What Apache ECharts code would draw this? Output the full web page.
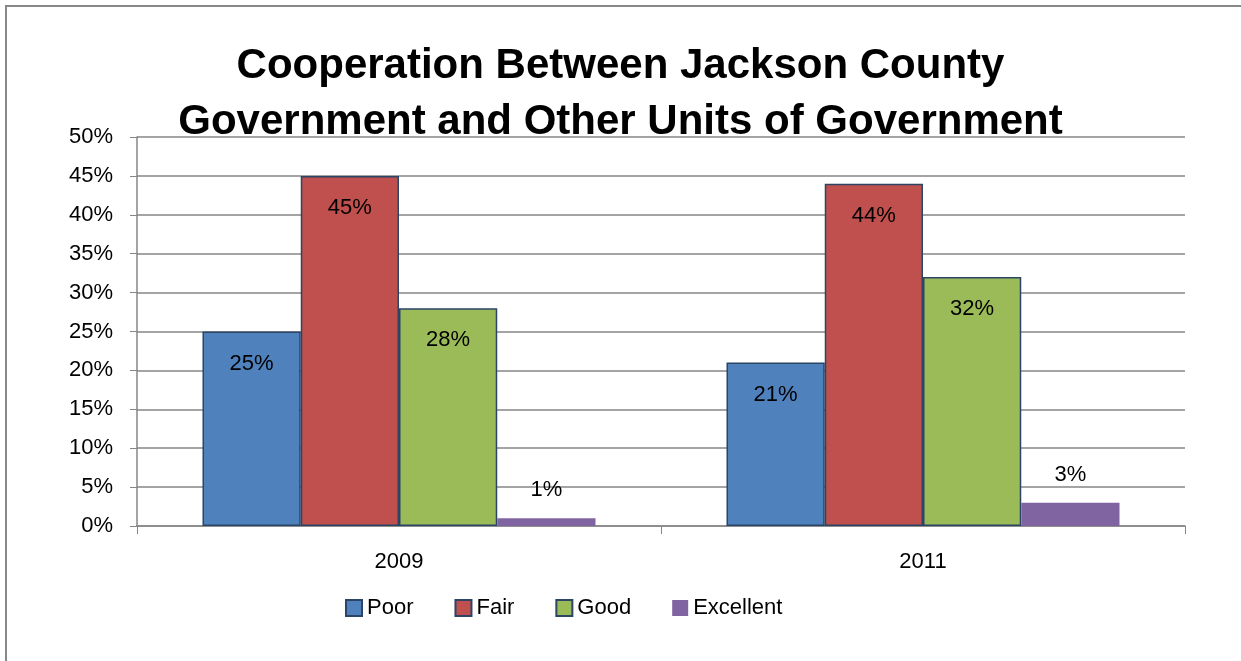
<!DOCTYPE html>
<html>
<head>
<meta charset="utf-8">
<script src="https://cdn.jsdelivr.net/npm/echarts@6/dist/echarts.min.js"></script>
<style>
html,body{margin:0;padding:0;background:#fff;}
#chart{width:1241px;height:661px;}
</style>
</head>
<body>
<div id="chart"></div>
<script>
const categories = ['2009', '2011'];
const poor = [25, 21];
const fair = [45, 44];
const good = [28, 32];
const excellent = [1, 3];
const seriesNames = ['Poor', 'Fair', 'Good', 'Excellent'];
const titleLines = ['Cooperation Between Jackson County', 'Government and Other Units of Government'];

const colors = ['#4F81BD', '#C0504D', '#9BBB59', '#8064A2'];
const FONT = 'Liberation Sans';
const chart = echarts.init(document.getElementById('chart'));

function barSeries(name, data, idx, inside) {
  return {
    name: name,
    type: 'bar',
    data: data,
    barGap: '0%',
    barCategoryGap: '25%',
    itemStyle: { color: colors[idx], borderColor: idx === 3 ? colors[idx] : '#2b4566', borderWidth: idx === 3 ? 0 : 1.5 },
    label: {
      show: true,
      position: inside ? 'insideTop' : 'top',
      distance: inside ? 21 : 17,
      formatter: p => p.value + '%',
      color: '#000',
      fontFamily: FONT,
      fontSize: 22
    },
    emphasis: { disabled: true }
  };
}

chart.setOption({
  animation: false,
  backgroundColor: '#fff',
  title: {
    text: titleLines.join('\n'),
    left: 'center',
    top: 33,
    textStyle: { fontFamily: FONT, fontWeight: 'bold', fontSize: 42, color: '#000', lineHeight: 56 }
  },
  graphic: [{
    type: 'rect',
    shape: { x: 6, y: 6, width: 1300, height: 700 },
    style: { fill: 'none', stroke: '#888', lineWidth: 2 },
    silent: true
  }],
  legend: {
    data: seriesNames,
    bottom: 37,
    left: 340,
    itemWidth: 16,
    itemHeight: 16,
    itemGap: 41,
    textStyle: { fontFamily: FONT, fontSize: 22, color: '#000' },
    icon: 'rect'
  },
  grid: { left: 137, right: 56, top: 137, bottom: 135, containLabel: false },
  xAxis: {
    type: 'category',
    data: categories,
    axisLine: { lineStyle: { color: '#868686', width: 1.5 } },
    axisTick: { show: true, alignWithLabel: false, length: 8, lineStyle: { color: '#868686' } },
    axisLabel: { fontFamily: FONT, fontSize: 22, color: '#000', margin: 25 }
  },
  yAxis: {
    type: 'value',
    min: 0,
    max: 50,
    interval: 5,
    axisLine: { show: true, lineStyle: { color: '#868686', width: 1.5 } },
    axisTick: { show: true, inside: false, length: 7, lineStyle: { color: '#868686' } },
    splitLine: { lineStyle: { color: '#868686', width: 1.5 } },
    axisLabel: { fontFamily: FONT, fontSize: 22, color: '#000', margin: 24, formatter: v => v + '%' }
  },
  series: [
    barSeries(seriesNames[0], poor, 0, true),
    barSeries(seriesNames[1], fair, 1, true),
    barSeries(seriesNames[2], good, 2, true),
    barSeries(seriesNames[3], excellent, 3, false)
  ]
});
</script>
</body>
</html>
